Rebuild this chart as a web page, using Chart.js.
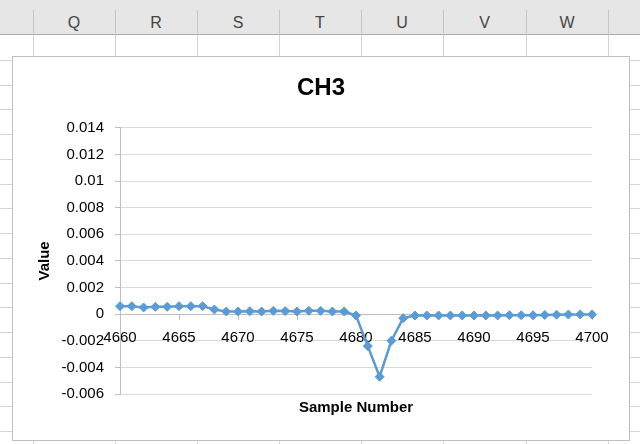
<!DOCTYPE html>
<html>
<head>
<meta charset="utf-8">
<script src="https://cdn.jsdelivr.net/npm/chart.js@4/dist/chart.umd.min.js"></script>
<style>
  html, body { margin: 0; padding: 0; background: #fff; }
  body { width: 640px; height: 444px; position: relative; overflow: hidden; font-family: 'Liberation Sans', Arial, sans-serif; }
  .hdr { position: absolute; left: 0; top: 0; width: 640px; height: 35px; background: #e6e6e6; border-bottom: 1px solid #ababab; box-sizing: border-box; }
  .col { position: absolute; width: 1px; background: #d4d4d4; }
  .hcol { position: absolute; width: 1px; top: 10px; height: 25px; background: #c6c6c6; }
  .row { position: absolute; left: 0; width: 640px; height: 1px; background: #d4d4d4; }
  .letter { position: absolute; top: 14px; width: 40px; margin-left: -20px; text-align: center; font-size: 16px; color: #444; }
  #frame { position: absolute; left: 12px; top: 56px; width: 616px; height: 383px; border: 1px solid #bfbfbf; background: #fff; }
  #wrap { position: absolute; left: 0; top: 0; width: 616px; height: 383px; }
</style>
</head>
<body>
<div class="hdr" id="hdr"></div>
<div id="grid"></div>
<div id="frame"><div id="wrap"><canvas id="chart"></canvas></div></div>
<script>
// ── Data ─────────────────────────────────────────────────────────
const sampleNumbers = [
  4660, 4661, 4662, 4663, 4664, 4665, 4666, 4667, 4668, 4669,
  4670, 4671, 4672, 4673, 4674, 4675, 4676, 4677, 4678, 4679,
  4680, 4681, 4682, 4683, 4684, 4685, 4686, 4687, 4688, 4689,
  4690, 4691, 4692, 4693, 4694, 4695, 4696, 4697, 4698, 4699, 4700
];
const ch3Values = [
  0.0006, 0.0006, 0.0005, 0.00055, 0.00055, 0.0006, 0.0006, 0.0006, 0.00035, 0.0002,
  0.0002, 0.00022, 0.0002, 0.00025, 0.00023, 0.0002, 0.00025, 0.00025, 0.0002, 0.0002,
  -0.0001, -0.0024, -0.0047, -0.002, -0.0003, -0.0001, -0.0001, -0.0001, -0.0001, -0.0001,
  -0.0001, -0.0001, -0.0001, -0.00008, -0.00008, -0.00008, -0.00006, -0.00004, -0.00003, -0.00002, -0.00002
];
const columnLetters = ['Q', 'R', 'S', 'T', 'U', 'V', 'W'];

// ── Spreadsheet backdrop ─────────────────────────────────────────
const colEdges = [33, 115, 197, 279, 361, 443, 526, 608];
const grid = document.getElementById('grid');
const hdr = document.getElementById('hdr');
colEdges.forEach(x => {
  const c = document.createElement('div');
  c.className = 'col';
  c.style.left = x + 'px'; c.style.top = '35px'; c.style.height = '409px';
  grid.appendChild(c);
  const h = document.createElement('div');
  h.className = 'hcol';
  h.style.left = x + 'px';
  hdr.appendChild(h);
});
for (let k = 1; k < 17; k++) {
  const r = document.createElement('div');
  r.className = 'row';
  r.style.top = Math.round(35 + 24.75 * k) + 'px';
  grid.appendChild(r);
}
columnLetters.forEach((t, i) => {
  const l = document.createElement('div');
  l.className = 'letter';
  l.textContent = t;
  l.style.left = ((colEdges[i] + colEdges[i + 1]) / 2) + 'px';
  hdr.appendChild(l);
});

// ── Chart ────────────────────────────────────────────────────────
const FONT = "'Liberation Sans', Arial, sans-serif";
const BLUE = '#5b9bd5';

new Chart(document.getElementById('chart'), {
  type: 'line',
  data: {
    datasets: [{
      label: 'CH3',
      data: sampleNumbers.map((n, i) => ({ x: n, y: ch3Values[i] })),
      borderColor: BLUE,
      backgroundColor: BLUE,
      borderWidth: 2.5,
      pointStyle: 'rectRot',
      pointRadius: 4.5,
      pointBorderWidth: 1,
      pointBackgroundColor: BLUE,
      pointBorderColor: BLUE,
      tension: 0,
      clip: false,
      yAxisID: 'y',
    }]
  },
  options: {
    responsive: true,
    maintainAspectRatio: false,
    animation: false,
    devicePixelRatio: 1,
    layout: { padding: 0 },
    plugins: {
      legend: { display: false },
      tooltip: { enabled: false },
      title: {
        display: true,
        text: 'CH3',
        color: '#000',
        font: { family: FONT, size: 24, weight: 'bold' },
        padding: { top: 17, bottom: 25 },
      },
      subtitle: {
        display: true,
        fullSize: false,
        position: 'bottom',
        text: 'Sample Number',
        color: '#000',
        font: { family: FONT, size: 15, weight: 'bold' },
        padding: { top: 5, bottom: 23 },
      },
    },
    scales: {
      x: {
        type: 'linear',
        position: { y: 0 },
        min: 4660,
        max: 4700,
        afterFit: (s) => { s.height = 0; },
        grid: { display: true, drawOnChartArea: false, drawTicks: true, tickLength: 5, color: '#bfbfbf' },
        border: { display: true, color: '#bfbfbf', width: 1 },
        ticks: {
          stepSize: 5,
          maxRotation: 0,
          padding: 10,
          color: '#000',
          font: { family: FONT, size: 15 },
          callback: (v) => String(v),
        },
      },
      y: {
        type: 'linear',
        position: 'left',
        min: -0.006,
        max: 0.014,
        afterFit: (s) => { s.width = 107; },
        grid: { color: '#d9d9d9', tickColor: '#bfbfbf', tickLength: 5 },
        border: { display: true, color: '#bfbfbf', width: 1 },
        title: {
          display: true,
          text: 'Value',
          color: '#000',
          font: { family: FONT, size: 15, weight: 'bold' },
          padding: { top: 23, bottom: 0 },
        },
        ticks: {
          stepSize: 0.002,
          padding: 11,
          color: '#000',
          font: { family: FONT, size: 15 },
          callback: (v) => String(parseFloat(v.toFixed(3))),
        },
      },
      // empty right-hand gutter so the plot ends where Excel's does
      gutter: {
        type: 'linear',
        position: 'right',
        afterFit: (s) => { s.width = 37; },
        grid: { display: false },
        border: { display: false },
        ticks: { display: false },
      },
    },
  },
});
</script>
</body>
</html>
